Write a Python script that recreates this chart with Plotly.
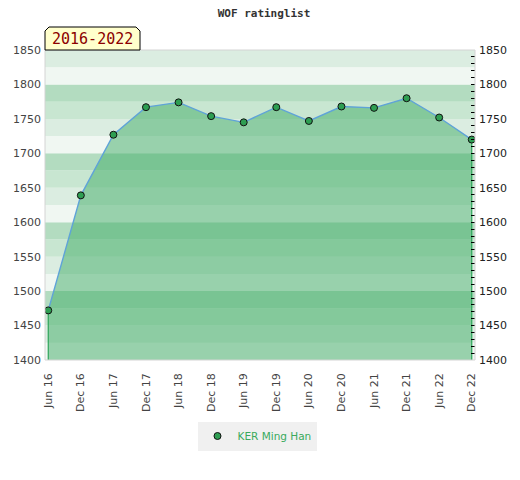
import plotly.graph_objects as go

# --- Data
periods = ["Jun 16", "Dec 16", "Jun 17", "Dec 17", "Jun 18", "Dec 18", "Jun 19",
           "Dec 19", "Jun 20", "Dec 20", "Jun 21", "Dec 21", "Jun 22", "Dec 22"]
rating = [1472, 1639, 1727, 1767, 1774, 1754, 1745,
          1767, 1747, 1768, 1766, 1780, 1752, 1720]
player = "KER Ming Han"
y_ticks = [1400, 1450, 1500, 1550, 1600, 1650, 1700, 1750, 1800, 1850]

# --- Layout helpers (page pixel -> paper); page body has an 8px margin
OFF = 8
W, H = 520 - OFF, 480 - OFF
L, R, T, B = 45 - OFF, 45, 50 - OFF, 120
pw, ph = W - L - R, H - T - B
def px(x): return (x - OFF - L) / pw
def py(y): return (H - B - (y - OFF)) / ph

idx = list(range(len(periods)))
ymin, ymax = 1400, 1850

fig = go.Figure()

# area under the line
fig.add_trace(go.Scatter(x=idx, y=rating, mode="none", fill="tozeroy",
                         fillcolor="rgba(63,172,102,0.5)", showlegend=False, hoverinfo="skip"))
# green edges at both ends
for i in (0, len(idx) - 1):
    fig.add_trace(go.Scatter(x=[idx[i], idx[i]], y=[ymin, rating[i]], mode="lines",
                             line=dict(color="#2ea55a", width=1.2), showlegend=False, hoverinfo="skip"))
# the rating line
fig.add_trace(go.Scatter(x=idx, y=rating, mode="lines+markers",
                         line=dict(color="#5fa3d8", width=1.4),
                         marker=dict(size=7, color="#2e9e52", line=dict(color="#111", width=1)),
                         showlegend=False, name=player))
# legend entry only
fig.add_trace(go.Scatter(x=[None], y=[None], mode="markers", name=player,
                         marker=dict(size=7, color="#2e9e52", line=dict(color="#111", width=1))))
# dummy trace on right axis
fig.add_trace(go.Scatter(x=[idx[0]], y=[ymin], yaxis="y2", mode="markers",
                         marker=dict(opacity=0), showlegend=False, hoverinfo="skip"))

# background bands, 25 points each
band_cols = ["#f0f7f2", "#dbede1", "#c8e6d1", "#b3dcc0"]
shapes = []
v = ymin
k = 0
while v < ymax:
    shapes.append(dict(type="rect", xref="paper", yref="y", x0=0, x1=1, y0=v, y1=v + 25,
                       fillcolor=band_cols[k % 4], line=dict(width=0), layer="below"))
    v += 25
    k += 1
# plot frame
shapes.append(dict(type="rect", xref="paper", yref="paper", x0=0, x1=1, y0=0, y1=1,
                   line=dict(color="#d4d4d4", width=1), layer="above"))
# period badge
bx0, bx1, by0, by1, c = px(45), px(140), py(50), py(27), 4
shapes.append(dict(type="path", xref="paper", yref="paper",
                   path=(f"M {bx0} {by0} L {bx0} {py(27 + c)} L {px(45 + c)} {by1} "
                         f"L {px(140 - c)} {by1} L {bx1} {py(27 + c)} L {bx1} {by0} Z"),
                   fillcolor="#ffffcc", line=dict(color="#000", width=1)))

fig.update_layout(
    width=W, height=H,
    margin=dict(l=L, r=R, t=T, b=B),
    paper_bgcolor="white", plot_bgcolor="rgba(0,0,0,0)",
    shapes=shapes,
    title=dict(text="<b>WOF ratinglist</b>", x=0.5, xanchor="center", y=1 - (13 - OFF) / H,
               yanchor="middle", font=dict(family="DejaVu Sans Mono", size=11, color="#333")),
    annotations=[dict(text="2016-2022", xref="paper", yref="paper", x=(bx0 + bx1) / 2, y=py(39),
                      xanchor="center", yanchor="middle", showarrow=False,
                      font=dict(family="DejaVu Sans Mono", size=15, color="#8b0000"))],
    xaxis=dict(range=[-0.1, len(idx) - 0.9], tickmode="array", tickvals=idx, ticktext=periods,
               tickangle=-90, showgrid=False, zeroline=False, ticks="", ticklabelstandoff=10,
               automargin=False, tickfont=dict(family="DejaVu Sans", size=11, color="#444")),
    yaxis=dict(range=[ymin, ymax], tickvals=y_ticks, showgrid=False, zeroline=False, ticks="",
               ticklabelstandoff=3, automargin=False,
               tickfont=dict(family="DejaVu Sans", size=11, color="#444")),
    yaxis2=dict(range=[ymin, ymax], tickvals=y_ticks, overlaying="y", side="right",
                showgrid=False, zeroline=False, ticks="inside", ticklen=4, tickcolor="#000",
                minor=dict(dtick=10, ticks="inside", ticklen=4, tickcolor="#000"),
                ticklabelstandoff=3, automargin=False,
                tickfont=dict(family="DejaVu Sans", size=11, color="#222")),
    legend=dict(orientation="h", x=px(257), xanchor="center", y=py(436), yanchor="middle",
                bgcolor="#f0f0f0", itemwidth=30,
                font=dict(family="DejaVu Sans", size=10.5, color="#3aaa5c")),
    hovermode="closest",
)

fig.write_html("out.html")
